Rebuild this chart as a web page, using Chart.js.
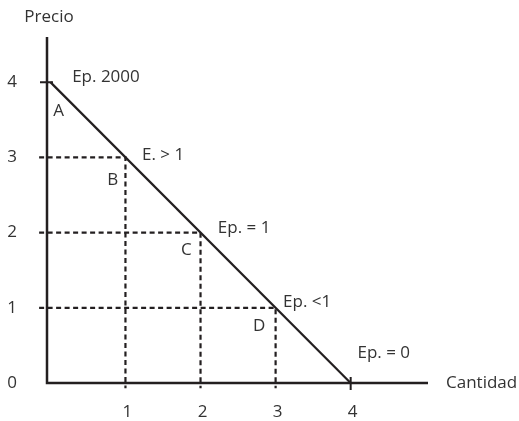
<!DOCTYPE html>
<html>
<head>
<meta charset="utf-8">
<script src="https://cdn.jsdelivr.net/npm/chart.js@4.4.1/dist/chart.umd.min.js"></script>
<style>
  html, body { margin: 0; padding: 0; background: #fff; }
  #wrap { width: 519px; height: 421px; position: relative; }
</style>
</head>
<body>
<div id="wrap"><canvas id="c"></canvas></div>
<script>
// Demand curve: quantity demanded at each price
const cantidad = [0, 4];
const precio = [4, 0];

// Reference points marked on the curve (quantity, price)
const puntosQ = [1, 2, 3];
const puntosP = [3, 2, 1];

// Axis tick labels
const ticksX = [1, 2, 3, 4];
const ticksY = [0, 1, 2, 3, 4];

// Elasticity notes and region letters, placed in data units
const notas = ['Ep. 2000', 'E. > 1', 'Ep. = 1', 'Ep. <1', 'Ep. = 0'];
const notasQ = [0.29, 1.22, 2.23, 3.10, 4.09];
const notasP = [4.07, 3.03, 2.06, 1.08, 0.40];
const letras = ['A', 'B', 'C', 'D'];
const letrasQ = [0.11, 0.83, 1.81, 2.78];
const letrasP = [3.62, 2.70, 1.76, 0.76];

const INK = '#231f20';
const TEXT = '#333333';
const FONT = '17px "Open Sans", "DejaVu Sans", sans-serif';

const datasets = [{
  data: cantidad.map((q, i) => ({ x: q, y: precio[i] })),
  borderColor: INK,
  borderWidth: 2.2,
  pointRadius: 0,
  fill: false,
  clip: false,
  order: 0
}];
puntosQ.forEach((q, i) => {
  datasets.push({
    data: [{ x: -0.15, y: puntosP[i] }, { x: q, y: puntosP[i] }, { x: q, y: -0.07 }],
    borderColor: INK,
    borderWidth: 2.2,
    borderDash: [5, 3.5],
    pointRadius: 0,
    fill: false,
    clip: false,
    order: 1
  });
});

const axesPlugin = {
  id: 'axesPlugin',
  beforeDatasetsDraw(chart) {
    const { ctx, scales: { x, y } } = chart;
    const x0 = x.getPixelForValue(x.min);
    const y0 = y.getPixelForValue(0);
    ctx.save();
    ctx.strokeStyle = INK;
    ctx.lineWidth = 2.5;
    ctx.beginPath();
    ctx.moveTo(x0, y.getPixelForValue(y.max));
    ctx.lineTo(x0, y0);
    ctx.lineTo(x.getPixelForValue(x.max), y0);
    ctx.stroke();
    // cross ticks at the curve's intercepts
    ctx.lineWidth = 2;
    const yT = y.getPixelForValue(4);
    ctx.beginPath();
    ctx.moveTo(x0 - 7, yT); ctx.lineTo(x0 + 6, yT);
    const xT = x.getPixelForValue(4);
    ctx.moveTo(xT, y0 - 6); ctx.lineTo(xT, y0 + 7);
    ctx.stroke();
    ctx.restore();
  },
  afterDatasetsDraw(chart) {
    const { ctx, scales: { x, y } } = chart;
    const x0 = x.getPixelForValue(x.min);
    const y0 = y.getPixelForValue(0);
    ctx.save();
    ctx.fillStyle = TEXT;
    ctx.font = FONT;
    ctx.textBaseline = 'middle';
    ctx.textAlign = 'center';
    ticksX.forEach(v => ctx.fillText(String(v), x.getPixelForValue(v) + 2, y0 + 29));
    ticksY.forEach(v => ctx.fillText(String(v), 12, y.getPixelForValue(v)));
    ctx.fillText('Precio', 49, 17);
    letras.forEach((t, i) => ctx.fillText(t, x.getPixelForValue(letrasQ[i]), y.getPixelForValue(letrasP[i])));
    ctx.textAlign = 'left';
    notas.forEach((t, i) => ctx.fillText(t, x.getPixelForValue(notasQ[i]), y.getPixelForValue(notasP[i])));
    ctx.fillText('Cantidad', x.getPixelForValue(x.max) + 18, y0);
    ctx.restore();
  }
};

new Chart(document.getElementById('c'), {
  type: 'line',
  data: { datasets },
  options: {
    responsive: true,
    maintainAspectRatio: false,
    animation: false,
    layout: { padding: { left: 47, right: 91, top: 37, bottom: 38 } },
    plugins: { legend: { display: false }, tooltip: { enabled: false } },
    scales: {
      x: { type: 'linear', min: -0.045, max: 5.03, display: false },
      y: { type: 'linear', min: 0, max: 4.6, display: false }
    }
  },
  plugins: [axesPlugin]
});
</script>
</body>
</html>
